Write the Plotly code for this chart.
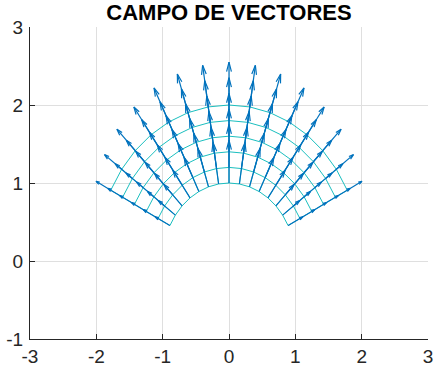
import math
import plotly.graph_objects as go

# polar mesh definition
angles_deg = [27, 36, 45, 54, 63, 72, 81, 90, 99, 108, 117, 126, 135, 144, 153]
radii = [1.0, 1.2, 1.4, 1.6, 1.8, 2.0]
# arrow length (data units) for each angle column
arrow_len = [0.25, 0.32, 0.39, 0.44, 0.49, 0.52, 0.54, 0.55, 0.54, 0.52, 0.49, 0.44, 0.39, 0.32, 0.25]

x_ticks = [-3, -2, -1, 0, 1, 2, 3]
y_ticks = [-1, 0, 1, 2, 3]

th = [math.radians(a) for a in angles_deg]

# mesh lines
mx, my = [], []
for r in radii:
    for t in th:
        mx.append(r * math.cos(t)); my.append(r * math.sin(t))
    mx.append(None); my.append(None)
for t in th:
    for r in radii:
        mx.append(r * math.cos(t)); my.append(r * math.sin(t))
    mx.append(None); my.append(None)

# arrows
alpha, beta = 0.22, 0.3
ax, ay = [], []
for t, L in zip(th, arrow_len):
    for r in radii:
        x0, y0 = r * math.cos(t), r * math.sin(t)
        u, v = L * math.cos(t), L * math.sin(t)
        x1, y1 = x0 + u, y0 + v
        ax += [x0, x1, None]; ay += [y0, y1, None]
        ax += [x1 - alpha * (u + beta * v), x1, x1 - alpha * (u - beta * v), None]
        ay += [y1 - alpha * (v - beta * u), y1, y1 - alpha * (v + beta * u), None]

fig = go.Figure()
fig.add_trace(go.Scatter(x=mx, y=my, mode="lines", line=dict(color="#1BBFBF", width=1),
                         hoverinfo="skip", showlegend=False))
fig.add_trace(go.Scatter(x=ax, y=ay, mode="lines", line=dict(color="#0072BD", width=1.2),
                         hoverinfo="skip", showlegend=False))

font = "Liberation Sans, Arial, sans-serif"
fig.update_layout(
    width=437, height=370,
    margin=dict(l=30, r=9, t=27, b=31, autoexpand=False),
    paper_bgcolor="white", plot_bgcolor="white",
    title=dict(text="<b>CAMPO DE VECTORES</b>", x=0.5, xref="paper", y=0.968, yref="container",
               xanchor="center", yanchor="middle",
               font=dict(family=font, size=22, color="#000000")),
    font=dict(family=font, size=19, color="#262626"),
)
fig.update_xaxes(range=[-3, 3], tickvals=x_ticks, ticktext=[str(v) for v in x_ticks],
                 showgrid=True, gridcolor="#DFDFDF", gridwidth=1, zeroline=False,
                 showline=True, linecolor="#262626", linewidth=1, mirror=False,
                 ticks="inside", ticklen=5, tickcolor="#262626", automargin=False,
                 tickfont=dict(family=font, size=19, color="#262626"))
fig.update_yaxes(range=[-1, 3], tickvals=y_ticks, ticktext=[str(v) for v in y_ticks],
                 showgrid=True, gridcolor="#DFDFDF", gridwidth=1, zeroline=False,
                 showline=True, linecolor="#262626", linewidth=1, mirror=False,
                 ticks="inside", ticklen=5, tickcolor="#262626", automargin=False,
                 ticklabelstandoff=2,
                 tickfont=dict(family=font, size=19, color="#262626"))

fig.write_html("out.html", config={"displayModeBar": False},
               post_script="document.body.style.margin='0px';")
